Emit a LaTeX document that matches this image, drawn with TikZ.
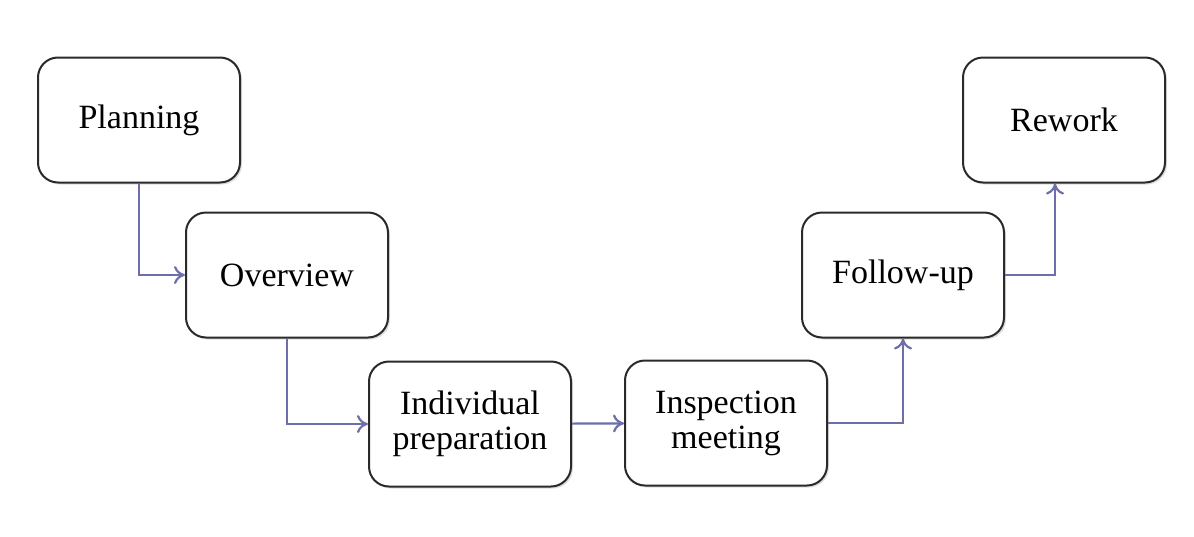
\documentclass[tikz,border=0pt]{standalone}
\usepackage{xcolor}
\usepackage{fontspec}
\setmainfont{Liberation Serif}
\usetikzlibrary{arrows.meta,shadows}
\definecolor{stageline}{HTML}{2A2A2A}
\definecolor{stagearrow}{HTML}{6E6EAA}

\begin{document}
\begin{tikzpicture}[x=0.5pt,y=-0.5pt,
  stagebox/.style={draw=stageline,fill=white,rounded corners=10pt,minimum width=101pt,minimum height=62.5pt,align=center,line width=1pt,font=\fontsize{17}{17.5}\selectfont,drop shadow={shadow xshift=1pt,shadow yshift=-1pt,opacity=0.25}},
  flow/.style={-{To[length=5.5pt,width=9pt]},line width=1.1pt,color=stagearrow}]
\useasboundingbox (0,0) rectangle (1194,536);
\node[stagebox] (plan) at (139,120) {Planning};
\node[stagebox] (over) at (287,275) {Overview};
\node[stagebox] (prep) at (470,424) {Individual\\preparation};
\node[stagebox] (insp) at (726,423) {Inspection\\meeting};
\node[stagebox] (follow) at (903,275) {Follow-up};
\node[stagebox] (rework) at (1064,120) {Rework};
\draw[flow] (plan) |- (over);
\draw[flow] (over) |- (prep);
\draw[flow] (prep) -- (insp);
\draw[flow] (insp) -| (follow);
\draw[flow] (follow) -| ([xshift=-4.5pt]rework.south);
\end{tikzpicture}
\end{document}
